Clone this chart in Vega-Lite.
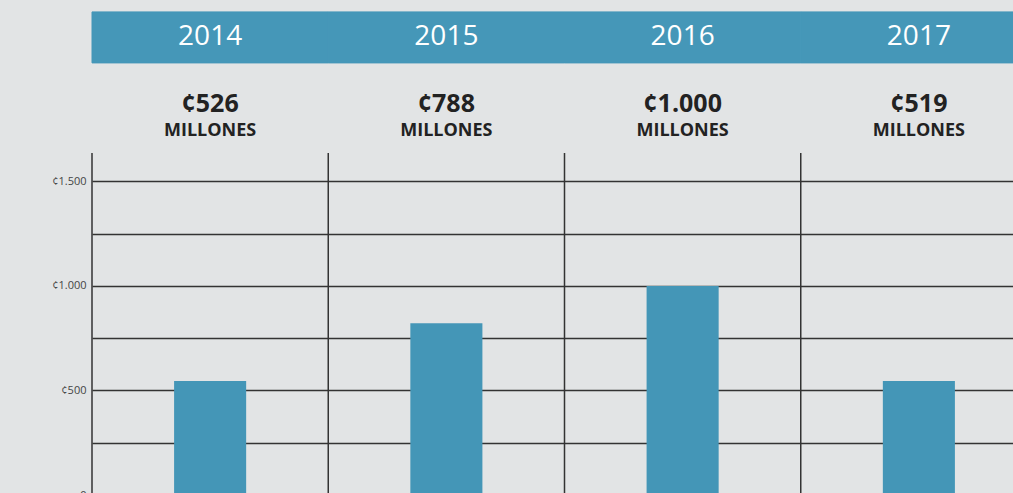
{
  "$schema": "https://vega.github.io/schema/vega-lite/v6.json",
  "width": 945,
  "height": 495,
  "autosize": {"type": "none"},
  "padding": {"left": 92, "top": 0, "right": 0, "bottom": 0},
  "background": "#e2e4e5",
  "config": {"view": {"stroke": null}, "font": "Open Sans"},
  "data": {
    "values": [
      {"anio": "2014", "monto": "¢526", "barra": 545},
      {"anio": "2015", "monto": "¢788", "barra": 822},
      {"anio": "2016", "monto": "¢1.000", "barra": 1000},
      {"anio": "2017", "monto": "¢519", "barra": 545}
    ]
  },
  "encoding": {
    "x": {"field": "anio", "type": "nominal", "scale": {"type": "band", "paddingInner": 0, "paddingOuter": 0}, "axis": null}
  },
  "layer": [
    {
      "mark": {"type": "rule", "color": "#333333", "strokeWidth": 1.5},
      "encoding": {
        "x": {"field": "anio", "type": "nominal", "bandPosition": 0},
        "y": {"datum": 0, "type": "quantitative", "scale": {"domain": [0, 2368], "nice": false, "zero": true},
          "axis": {
            "values": [0, 250, 500, 750, 1000, 1250, 1500],
            "labelExpr": "datum.value == 1500 ? '¢1.500' : datum.value == 1000 ? '¢1.000' : datum.value == 500 ? '¢500' : datum.value == 0 ? '0' : ''",
            "title": null,
            "domain": false,
            "ticks": false,
            "grid": true,
            "gridColor": "#333333",
            "gridWidth": 1.5,
            "gridOpacity": 1,
            "labelFontSize": 11,
            "labelColor": "#444444",
            "labelPadding": 6,
            "labelFont": "Open Sans"
          }
        },
        "y2": {"datum": 1636}
      }
    },
    {
      "mark": {"type": "rect", "color": "#4597b8", "stroke": "#4597b8", "strokeWidth": 1},
      "encoding": {
        "y": {"datum": 2067, "type": "quantitative"},
        "y2": {"datum": 2311}
      }
    },
    {
      "mark": {"type": "bar", "color": "#4496b7", "width": {"band": 0.305}},
      "encoding": {
        "y": {"field": "barra", "type": "quantitative"}
      }
    },
    {
      "mark": {"type": "text", "color": "#ffffff", "fontSize": 28, "baseline": "middle", "font": "Open Sans"},
      "encoding": {
        "y": {"datum": 2191, "type": "quantitative"},
        "text": {"field": "anio"}
      }
    },
    {
      "mark": {"type": "text", "color": "#222222", "fontSize": 25, "fontWeight": "bold", "baseline": "middle", "font": "Open Sans"},
      "encoding": {
        "y": {"datum": 1872, "type": "quantitative"},
        "text": {"field": "monto"}
      }
    },
    {
      "mark": {"type": "text", "color": "#222222", "fontSize": 18, "fontWeight": "bold", "baseline": "middle", "font": "Open Sans", "text": "MILLONES"},
      "encoding": {
        "y": {"datum": 1740, "type": "quantitative"}
      }
    }
  ]
}
